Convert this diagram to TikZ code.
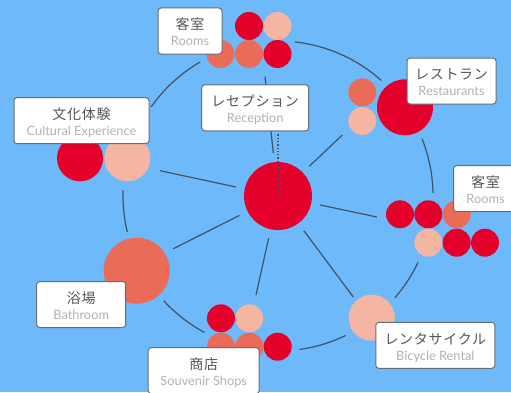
\documentclass[tikz,border=0pt]{standalone}
\usepackage{fontspec}
\setmainfont{Lato}
\newfontfamily\jpfont[LetterSpace=5]{Noto Sans CJK JP}
\usepackage{xcolor}

\definecolor{skyblue}{HTML}{6EB9FA}
\definecolor{crimson}{HTML}{E4002B}
\definecolor{coral}{HTML}{EA6C58}
\definecolor{peach}{HTML}{F4B6A2}
\definecolor{slate}{HTML}{3F5266}
\definecolor{boxline}{HTML}{666E75}
\definecolor{jpgray}{HTML}{555555}
\definecolor{engray}{HTML}{B2B2B2}

\newcommand\jptxt[1]{{\jpfont\fontsize{14}{16}\selectfont\color{jpgray}\rule{0pt}{16.5pt}#1}}
\newcommand\entxt[1]{{\fontsize{12.8}{16}\selectfont\color{engray}\rule[-3pt]{0pt}{0pt}#1}}

\begin{document}
\begin{tikzpicture}[x=1pt, y=1pt,
  blob/.style={circle, inner sep=0pt, minimum size=28pt},
  ring/.style={draw=slate, line width=1.2pt},
  spoke/.style={draw=slate, line width=1.2pt, shorten <=9pt},
  tag/.style={draw=boxline, fill=white, rounded corners=3pt, line width=1pt,
    minimum height=46pt, inner sep=0pt, align=center,
    font=\fontsize{12.8}{16}\selectfont}]
\useasboundingbox (0,0) rectangle (511,392);
\fill[skyblue] (0,0) rectangle (511,392);

% hub and ring
\node[blob, fill=crimson, minimum size=68pt] (hub) at (278,196) {};
\foreach \a/\b in {83.7/48.2, 21.7/1.1, -25.4/-41, -64.1/-82.1,
                   -118.3/-137.5, -166.6/-182.2, 144.9/120.1}
  \draw[ring] (hub.center) ++(\a:155) arc[start angle=\a, end angle=\b, radius=155];

% rooms (top)
\foreach \x/\y/\c [count=\i] in {249/366/crimson, 277.5/366/peach,
    220.5/338/coral, 249/338/coral, 277.5/338/crimson}
  \node[blob, fill=\c] (roomsT\i) at (\x,\y) {};
% restaurants
\node[blob, fill=crimson, minimum size=56pt] (rest1) at (405,284.7) {};
\node[blob, fill=coral] (rest2) at (362.3,299.7) {};
\node[blob, fill=peach] (rest3) at (362.3,271) {};
% rooms (right)
\foreach \x/\y/\c [count=\i] in {400/177.7/crimson, 428.3/177.7/crimson,
    456.7/177.7/coral, 428.3/149.3/peach, 456.7/149.3/crimson, 485/149.3/crimson}
  \node[blob, fill=\c] (roomsR\i) at (\x,\y) {};
% bicycle rental
\node[blob, fill=peach, minimum size=46pt] (bike) at (371.7,74.3) {};
% souvenir shops
\foreach \x/\y/\c [count=\i] in {221/73.7/crimson, 249.3/73.7/peach,
    221/45.3/coral, 249.3/45.3/coral, 277.7/45.3/crimson}
  \node[blob, fill=\c] (shop\i) at (\x,\y) {};
% bathroom
\node[blob, fill=coral, minimum size=66pt] (bath) at (136.7,121.3) {};
% cultural experience
\node[blob, fill=crimson, minimum size=46pt] (cult1) at (80,233.7) {};
\node[blob, fill=peach, minimum size=46pt] (cult2) at (127.3,233.7) {};

% spokes
\coordinate (toRoomsT) at (265,315.3);
\coordinate (toRest) at (342.3,257);
\coordinate (toRoomsR) at (376.7,175);
\coordinate (toBike) at (353.3,95);
\coordinate (toShop) at (256,97);
\coordinate (toBath) at (173.3,143.3);
\coordinate (toCult) at (160,221.3);
\foreach \t in {toRoomsT, toRest, toRoomsR, toBike, toShop, toBath, toCult}
  \draw[spoke] (hub) -- (\t);

% labels
\node[tag, minimum width=107pt] (recep) at (255.2,284.2) {\jptxt{レセプション}\\\entxt{Reception}};
\draw[slate, line width=1.3pt, dash pattern=on 1.3pt off 2pt] (recep.south -| hub) ++(0,-3) -- (hub.center);
\node[tag, minimum width=64pt] (lblRoomsT) at (190,361) {\jptxt{客室}\\\entxt{Rooms}};
\node[tag, minimum width=89pt] (lblRest) at (451.5,311) {\jptxt{レストラン}\\\entxt{Restaurants}};
\node[tag, minimum width=64pt] (lblRoomsR) at (485.5,203.3) {\jptxt{客室}\\\entxt{Rooms}};
\node[tag, minimum width=119pt] (lblBike) at (435.3,46.7) {\jptxt{レンタサイクル}\\\entxt{Bicycle Rental}};
\node[tag, minimum width=111pt] (lblShop) at (203.7,21.3) {\jptxt{商店}\\\entxt{Souvenir Shops}};
\node[tag, minimum width=89pt] (lblBath) at (81.2,87.5) {\jptxt{浴場}\\\entxt{Bathroom}};
\node[tag, minimum width=135pt] (lblCult) at (81.5,271.3) {\jptxt{文化体験}\\\entxt{Cultural Experience}};
\end{tikzpicture}
\end{document}
